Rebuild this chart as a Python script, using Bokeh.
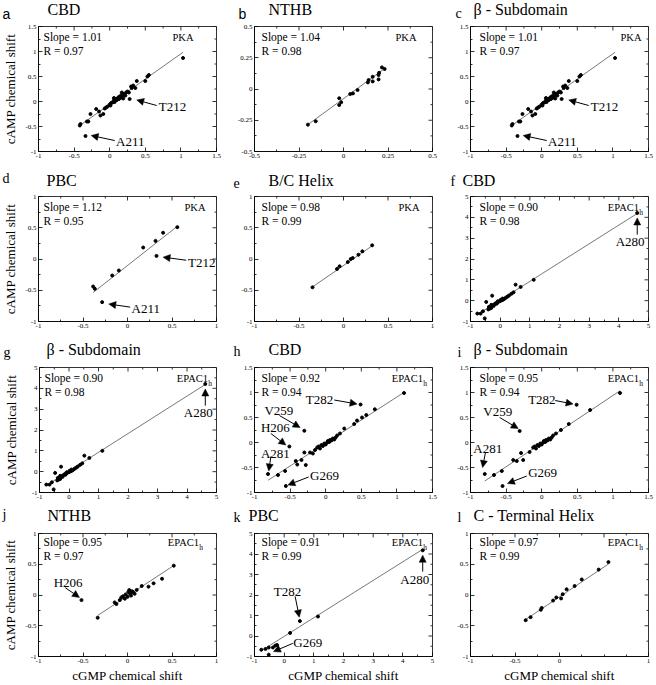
from bokeh.plotting import figure
from bokeh.layouts import column, row
from bokeh.models import Label, Arrow, NormalHead, FixedTicker, Range1d
from bokeh.embed import file_html
from bokeh.resources import INLINE

SERIF = "Liberation Serif"
SANS = "Liberation Sans"

# ---------------- data ----------------
# PKA CBD (panels a and c)
pka_cbd_x = [1.03, 0.55, 0.53, 0.50, 0.38, 0.33, 0.31, 0.28, 0.36, 0.30, 0.27, 0.25, 0.23, 0.22, 0.20,
             0.19, 0.18, 0.17, 0.16, 0.15, 0.14, 0.13, 0.12, 0.11, 0.10, 0.09, 0.08, 0.07, 0.06, 0.06,
             0.05, 0.04, 0.02, 0.01, 0.00, -0.03, -0.05, -0.07, -0.09, -0.13, -0.15, -0.19, -0.27, -0.30,
             -0.32, -0.34, -0.41, -0.42]
pka_cbd_y = [0.87, 0.53, 0.50, 0.41, 0.41, 0.32, 0.27, 0.05, 0.27, 0.30, 0.18, 0.20, 0.18, 0.12, 0.15,
             0.06, 0.10, 0.18, 0.12, 0.07, 0.10, 0.05, 0.08, 0.06, 0.03, 0.05, 0.03, -0.01, 0.02, 0.07,
             0.00, -0.02, -0.03, -0.08, -0.06, -0.10, -0.12, -0.14, -0.25, -0.28, -0.20, -0.15, -0.25, -0.40,
             -0.40, -0.69, -0.45, -0.48]
# PKA NTHB (b)
pka_nthb_x = [-0.20, -0.156, -0.024, -0.024, -0.013, 0.038, 0.053, 0.079, 0.137, 0.141, 0.164, 0.164,
              0.197, 0.20, 0.216, 0.231, 0.197]
pka_nthb_y = [-0.285, -0.258, -0.074, -0.128, -0.106, -0.04, -0.035, -0.008, 0.053, 0.072, 0.098, 0.061,
              0.077, 0.13, 0.173, 0.16, 0.112]
# PKA PBC (d)
pka_pbc_x = [-0.386, -0.367, -0.285, -0.172, -0.097, 0.176, 0.315, 0.326, 0.40, 0.56]
pka_pbc_y = [-0.44, -0.477, -0.69, -0.264, -0.184, 0.184, 0.29, 0.05, 0.42, 0.51]
# PKA B/C helix (e)
pka_bc_x = [-0.348, -0.073, -0.044, 0.048, 0.081, 0.103, 0.168, 0.212, 0.322]
pka_bc_y = [-0.453, -0.16, -0.117, -0.048, 0.0, 0.016, 0.069, 0.123, 0.219]
# EPAC1h CBD, wide range (f and g)
epac_cbd_x = [4.62, 1.13, 0.69, 0.52, 0.45, 0.38, 0.30, 0.25, 0.20, 0.15, 0.12, 0.10, 0.08, 0.05, 0.02,
              0.00, -0.05, -0.08, -0.10, -0.12, -0.15, -0.20, -0.22, -0.25, -0.27, -0.30, -0.30, -0.35,
              -0.38, -0.40, -0.47, -0.52, -0.58, -0.66, -0.77]
epac_cbd_y = [4.21, 1.00, 0.66, 0.77, 0.40, 0.33, 0.25, 0.20, 0.15, 0.10, 0.08, 0.05, 0.10, 0.02, 0.04,
              -0.02, -0.05, -0.03, -0.10, -0.15, -0.12, -0.18, -0.25, -0.22, 0.24, -0.35, -0.20, -0.38,
              -0.30, -0.42, -0.06, -0.85, -0.51, -0.62, -0.62]
# EPAC1h CBD without A280 (h)
epac_cbd2_x = [1.10, 0.69, 0.57, 0.51, 0.49, 0.44, 0.40, 0.26, 0.20, 0.16, 0.14, 0.12, 0.10, 0.08, 0.06,
               0.05, 0.03, 0.02, 0.00, -0.02, -0.04, -0.06, -0.08, -0.10, -0.12, -0.15, -0.18, -0.22,
               -0.28, -0.30, -0.30, -0.34, -0.40, -0.42, -0.51, -0.56, -0.57, -0.67, -0.81]
epac_cbd2_y = [0.99, 0.665, 0.55, 0.50, 0.76, 0.44, 0.37, 0.28, 0.18, 0.14, 0.10, 0.06, 0.08, 0.04, 0.05,
               0.01, 0.03, 0.00, -0.04, -0.02, -0.07, -0.05, -0.12, -0.08, -0.10, -0.15, -0.22, -0.20,
               -0.45, -0.20, 0.235, -0.35, -0.44, -0.37, -0.08, -0.87, -0.57, -0.65, -0.63]
# EPAC1h beta subdomain without A280 (i)
epac_beta_x = [1.10, 0.68, 0.49, 0.38, 0.27, 0.20, 0.16, 0.14, 0.12, 0.10, 0.08, 0.06, 0.05, 0.03, 0.02,
               0.00, -0.02, -0.04, -0.06, -0.08, -0.10, -0.12, -0.17, -0.26, -0.29, -0.31, -0.35, -0.40,
               -0.55, -0.56, -0.67, -0.80]
epac_beta_y = [0.99, 0.65, 0.755, 0.37, 0.25, 0.18, 0.14, 0.10, 0.06, 0.08, 0.04, 0.05, 0.01, 0.03, 0.00,
               -0.04, -0.02, -0.07, -0.05, -0.12, -0.08, -0.10, -0.19, -0.35, -0.21, 0.23, -0.37, -0.35,
               -0.87, -0.57, -0.65, -0.63]
# EPAC1h NTHB (j)
epac_nthb_x = [0.52, 0.388, 0.293, 0.236, 0.16, 0.103, 0.08, 0.06, 0.05, 0.04, 0.03, 0.02, 0.01, 0.0,
               -0.02, -0.03, -0.05, -0.07, -0.087, -0.125, -0.144, -0.335, -0.517]
epac_nthb_y = [0.477, 0.264, 0.19, 0.136, 0.147, 0.083, 0.02, 0.05, 0.06, -0.01, 0.02, 0.08, 0.05, -0.03,
               0.01, -0.06, -0.02, -0.04, -0.083, -0.147, -0.12, -0.37, -0.083]
# EPAC1h PBC (k)
epac_pbc_x = [4.67, 1.14, 0.53, 0.20, -0.24, -0.30, -0.38, -0.52, -0.52, -0.63, -0.77]
epac_pbc_y = [4.18, 0.95, 0.73, 0.15, -0.44, -0.47, -0.56, -0.56, -0.91, -0.63, -0.67]
# EPAC1h C-terminal helix (l)
epac_ct_x = [-0.38, -0.325, -0.21, -0.20, -0.072, -0.036, 0.018, 0.036, 0.08, 0.17, 0.25, 0.44, 0.55]
epac_ct_y = [-0.41, -0.36, -0.24, -0.21, -0.09, -0.04, -0.056, 0.013, 0.093, 0.147, 0.253, 0.413, 0.535]

panel_x = [pka_cbd_x, pka_nthb_x, pka_cbd_x, pka_pbc_x, pka_bc_x, epac_cbd_x,
           epac_cbd_x, epac_cbd2_x, epac_beta_x, epac_nthb_x, epac_pbc_x, epac_ct_x]
panel_y = [pka_cbd_y, pka_nthb_y, pka_cbd_y, pka_pbc_y, pka_bc_y, epac_cbd_y,
           epac_cbd_y, epac_cbd2_y, epac_beta_y, epac_nthb_y, epac_pbc_y, epac_ct_y]

panel_letters = ["a", "b", "c", "d", "e", "f", "g", "h", "i", "j", "k", "l"]
panel_titles = ["CBD", "NTHB", "\u03b2 - Subdomain", "PBC", "B/C Helix", "CBD",
                "\u03b2 - Subdomain", "CBD", "\u03b2 - Subdomain", "NTHB", "PBC", "C - Terminal Helix"]
panel_protein = ["PKA", "PKA", "PKA", "PKA", "PKA", "EPAC1",
                 "EPAC1", "EPAC1", "EPAC1", "EPAC1", "EPAC1", "EPAC1"]
slopes = [1.01, 1.04, 1.01, 1.12, 0.98, 0.90, 0.90, 0.92, 0.95, 0.95, 0.91, 0.97]
r_values = [0.97, 0.98, 0.97, 0.95, 0.99, 0.98, 0.98, 0.94, 0.94, 0.97, 0.99, 0.99]
intercepts = [-0.056, -0.077, -0.056, -0.104, -0.105, 0.027, 0.027, -0.01, -0.01, -0.015, -0.02, -0.03]
fit_lo = [-0.42, -0.20, -0.42, -0.386, -0.348, -0.77, -0.77, -0.81, -0.80, -0.335, -0.77, -0.38]
fit_hi = [1.03, 0.239, 1.03, 0.55, 0.322, 4.62, 4.62, 1.10, 1.10, 0.52, 4.67, 0.55]

# axis tick values and labels ("" = tick without a label)
ticks_a = [-1, -0.5, 0, 0.5, 1, 1.5]
labels_a = ["-1", "-0.5", "0", "0.5", "1", "1.5"]
ticks_b = [-0.5, -0.25, 0, 0.25, 0.5]
labels_b = ["-0.5", "-0.25", "0", "0.25", "0.5"]
ticks_d = [-1, -0.5, 0, 0.5, 1]
labels_d = ["-1", "-0.5", "0", "0.5", "1"]
labels_l = ["-1", "-0.5", "0", "", "1"]
ticks_f = [-1, 0, 1, 2, 3, 4, 5]
labels_f = ["-1", "0", "1", "2", "3", "4", "5"]

panel_ticks = [ticks_a, ticks_b, ticks_a, ticks_d, ticks_d, ticks_f,
               ticks_f, ticks_a, ticks_a, ticks_d, ticks_f, ticks_d]
panel_xlabels = [labels_a, labels_b, labels_a, labels_d, labels_d, labels_f,
                 labels_f, labels_a, labels_a, labels_d, labels_f, labels_l]
panel_ylabels = [labels_a, labels_b, labels_a, labels_d, labels_d, labels_f,
                 labels_f, labels_a, labels_a, labels_d, labels_f, labels_d]

# residue annotations: (text, text_x, text_y, align, arrow start, arrow end)
ann_pka = [("T212", 0.69, -0.105, "left", (0.66, -0.08), (0.38, 0.03)),
           ("A211", 0.09, -0.80, "left", (0.07, -0.78), (-0.26, -0.68))]
ann_pbc = [("T212", 0.68, -0.06, "left", (0.66, -0.02), (0.40, 0.03)),
           ("A211", 0.045, -0.79, "left", (0.03, -0.77), (-0.21, -0.72))]
ann_a280 = [("A280", 4.38, 2.82, "center", (4.62, 3.17), (4.62, 3.97))]
ann_h = [("T282", -0.28, 0.87, "left", (0.12, 0.85), (0.44, 0.77)),
         ("V259", -0.86, 0.64, "left", (-0.65, 0.54), (-0.36, 0.30)),
         ("H206", -0.91, 0.30, "left", (-0.77, 0.18), (-0.56, -0.05)),
         ("A281", -0.91, -0.21, "left", (-0.77, -0.28), (-0.80, -0.57)),
         ("G269", -0.22, -0.65, "left", (-0.24, -0.69), (-0.53, -0.85))]
ann_i = [("T282", -0.19, 0.86, "left", (0.19, 0.84), (0.44, 0.77)),
         ("V259", -0.82, 0.62, "left", (-0.59, 0.50), (-0.33, 0.28)),
         ("A281", -0.96, -0.11, "left", (-0.79, -0.20), (-0.83, -0.50)),
         ("G269", -0.19, -0.60, "left", (-0.21, -0.67), (-0.48, -0.82))]
ann_j = [("H206", -0.83, 0.21, "left", (-0.70, 0.12), (-0.54, -0.04))]
ann_k = [("A280", 4.40, 2.75, "center", (4.67, 3.14), (4.67, 3.94)),
         ("T282", 0.11, 2.19, "center", (0.37, 1.93), (0.51, 0.92)),
         ("G269", 0.31, -0.31, "left", (0.29, -0.36), (-0.36, -0.76))]
panel_ann = [ann_pka, [], ann_pka, ann_pbc, [], ann_a280, ann_a280, ann_h, ann_i, ann_j, ann_k, []]

# ---------------- layout / style (pixels) ----------------
FW, FH = 178, 125
FRAME_TOPS = [26, 196, 367, 533]
TOP, BOT, BOT_LAST = 5, 12, 27
COL_L = [38, 32, 32]
COL_R = [6, 6, 8]
COL_START = [0, COL_L[0] + FW + COL_R[0], COL_L[0] + FW + COL_R[0] + COL_L[1] + FW + COL_R[1]]
TOTAL_W = sum(COL_L) + 3 * FW + sum(COL_R)
TEXT_PAD = [5, 7, 9]
title_dx = [9, 14, 3, 8, 14, -8, 8, 14, 3, 9, -6, 3]
letter_dx = [-36, -16, -15, -36, -21, -20, -35, -21, -13, -36, -21, -13]
tag_pad = [23, 16, 7, 11, 13, 5, 5, 5, 5, 13, 5, 5]
# vertical centre of titles / letters, measured up from the bottom of each title strip
title_mid = [12, 11, 13, 13]
letter_mid = [[8, 8, 8], [13, 8.5, 10], [10, 11, 10.5], [14, 11, 11]]


def style_axis(ax, ticks, labels):
    major = [t for t, s in zip(ticks, labels) if s != ""]
    minors = [(a + b) / 2 for a, b in zip(ticks[:-1], ticks[1:])]
    minors += [t for t, s in zip(ticks, labels) if s == ""]
    ax.ticker = FixedTicker(ticks=major, minor_ticks=minors)
    ax.axis_line_color = "black"
    ax.axis_line_width = 0.8
    ax.major_tick_line_color = "black"
    ax.minor_tick_line_color = "black"
    ax.major_tick_line_width = 0.8
    ax.minor_tick_line_width = 0.8
    ax.major_tick_in = 4
    ax.major_tick_out = 0
    ax.minor_tick_in = 2
    ax.minor_tick_out = 0
    ax.major_label_overrides = {t: s for t, s in zip(ticks, labels) if s != ""}
    ax.major_label_text_font = SERIF
    ax.major_label_text_font_size = "7px"
    ax.major_label_text_color = "black"
    ax.major_label_standoff = 2
    ax.axis_label_text_font = SERIF
    ax.axis_label_text_font_size = "13px"
    ax.axis_label_text_font_style = "normal"
    ax.axis_label_text_color = "black"
    ax.axis_label_standoff = 2


def txt_label(x, y, text, size, align="left", font=SERIF, units="screen"):
    return Label(x=x, y=y, x_units=units, y_units=units, text=text, text_font=font,
                 text_font_size=size, text_align=align, text_baseline="middle", text_color="black")


def make_panel(i):
    col, rw = i % 3, i // 3
    ticks = panel_ticks[i]
    lo, hi = ticks[0], ticks[-1]
    bottom = BOT_LAST if rw == 3 else BOT
    p = figure(width=COL_L[col] + FW + COL_R[col], height=TOP + FH + bottom,
               x_range=Range1d(lo, hi), y_range=Range1d(lo, hi),
               min_border_left=COL_L[col], min_border_right=COL_R[col],
               min_border_top=TOP, min_border_bottom=bottom,
               toolbar_location=None, output_backend="svg", title=None)
    p.xgrid.visible = False
    p.ygrid.visible = False
    p.outline_line_color = "black"
    p.outline_line_width = 0.8
    p.background_fill_color = "white"
    p.border_fill_color = "white"
    style_axis(p.xaxis[0], ticks, panel_xlabels[i])
    style_axis(p.yaxis[0], ticks, panel_ylabels[i])
    if col == 0:
        p.yaxis[0].axis_label = "cAMP chemical shift"
        widest = max(len(s) for s in panel_ylabels[i])
        p.yaxis[0].axis_label_standoff = 4 if widest >= 4 else 10
    if rw == 3:
        p.xaxis[0].axis_label = "cGMP chemical shift"

    # mirrored inward ticks on the top and right edges
    span = hi - lo
    minors = [(a + b) / 2 for a, b in zip(ticks[:-1], ticks[1:])]
    for tl, length in ((ticks, 4), (minors, 2)):
        ly = length * span / FH
        lx = length * span / FW
        p.segment(x0=tl, y0=[hi] * len(tl), x1=tl, y1=[hi - ly] * len(tl),
                  line_color="black", line_width=0.8)
        p.segment(x0=[hi] * len(tl), y0=tl, x1=[hi - lx] * len(tl), y1=tl,
                  line_color="black", line_width=0.8)

    # regression line
    xl = [fit_lo[i], fit_hi[i]]
    yl = [slopes[i] * v + intercepts[i] for v in xl]
    p.line(xl, yl, line_color="#555555", line_width=0.8)
    # data points
    p.scatter(panel_x[i], panel_y[i], marker="circle", size=3.0, color="black")

    # residue annotations
    for txt, tx, ty, al, (xs, ys), (xe, ye) in panel_ann[i]:
        p.add_layout(Arrow(x_start=xs, y_start=ys, x_end=xe, y_end=ye, line_width=1, line_color="black",
                           end=NormalHead(size=7, fill_color="black", line_color="black", line_width=0.5)))
        p.add_layout(txt_label(tx, ty, txt, "13px", align=al, units="data"))

    # slope / R text
    pad = TEXT_PAD[col]
    p.add_layout(txt_label(pad, FH - 10.5, "Slope = %.2f" % slopes[i], "11.5px"))
    p.add_layout(txt_label(pad, FH - 24.5, "R = %.2f" % r_values[i], "11.5px"))
    # protein tag
    if panel_protein[i] == "PKA":
        p.add_layout(txt_label(FW - tag_pad[i], FH - 10.5, "PKA", "10.5px", align="right"))
    else:
        xr = FW - tag_pad[i] - 4.5
        p.add_layout(txt_label(xr, FH - 10.5, panel_protein[i], "10.5px", align="right"))
        p.add_layout(txt_label(xr + 0.3, FH - 15.5, "h", "7.5px", align="left"))
    return p


def make_strip(rw, height):
    s = figure(width=TOTAL_W, height=height, x_range=Range1d(0, TOTAL_W), y_range=Range1d(0, height),
               min_border=0, x_axis_type=None, y_axis_type=None, toolbar_location=None,
               output_backend="svg", title=None)
    s.outline_line_color = None
    s.xgrid.visible = False
    s.ygrid.visible = False
    s.border_fill_color = "white"
    s.background_fill_color = "white"
    for col in range(3):
        i = rw * 3 + col
        x0 = COL_START[col] + COL_L[col]
        s.add_layout(txt_label(x0 + title_dx[i], title_mid[rw], panel_titles[i], "16px"))
        s.add_layout(txt_label(x0 + letter_dx[i], letter_mid[rw][col], panel_letters[i], "14px",
                               font=SANS if i < 2 else SERIF))
    return s


panels = [make_panel(i) for i in range(12)]
rows = []
prev_bottom = 0
for r in range(4):
    strip_h = FRAME_TOPS[r] - TOP - prev_bottom
    rows.append(make_strip(r, strip_h))
    rows.append(row(*panels[r * 3:(r + 1) * 3]))
    prev_bottom = FRAME_TOPS[r] + FH + (BOT_LAST if r == 3 else BOT)
layout = column(*rows)

open("out.html", "w").write(file_html(layout, INLINE))
